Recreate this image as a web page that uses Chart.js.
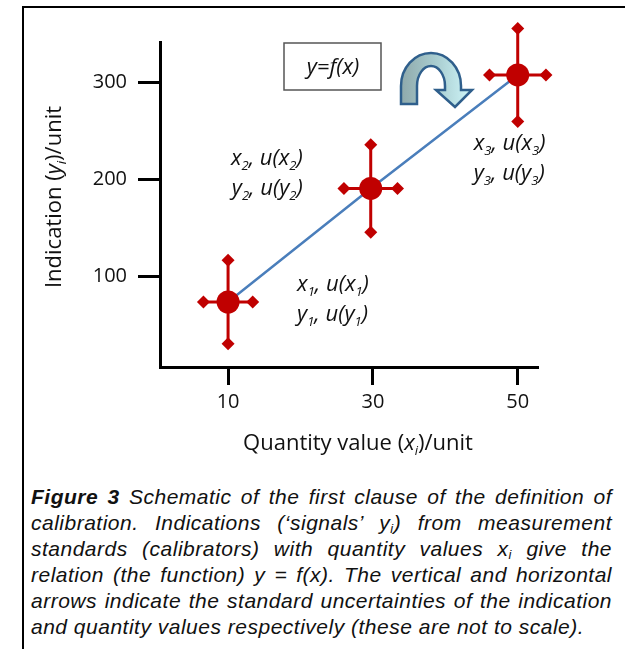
<!DOCTYPE html>
<html>
<head>
<meta charset="utf-8">
<script src="https://cdn.jsdelivr.net/npm/chart.js@4.4.1/dist/chart.umd.min.js"></script>
<style>
  html, body { margin: 0; padding: 0; background: #fff; width: 625px; height: 649px; overflow: hidden; }
  #frame { position: absolute; left: 22px; top: 6px; width: 640px; height: 700px;
           border-left: 2px solid #000; border-top: 2px solid #000; }
  #chart { position: absolute; left: 0; top: 0; }
  #caption { position: absolute; left: 31px; top: 484px; width: 581px;
             font-family: "Liberation Sans", Arial, sans-serif; font-style: italic;
             font-size: 21px; line-height: 26px; letter-spacing: 0.5px; color: #111; }
  #caption div { text-align: justify; text-align-last: justify; }
  #caption div.last { text-align-last: left; }
  #caption .sub { font-size: 13px; vertical-align: -3px; line-height: 0; }
</style>
</head>
<body>
<div id="frame"></div>
<canvas id="chart" width="625" height="470"></canvas>
<div id="caption">
  <div><b>Figure 3</b> Schematic of the first clause of the definition of</div>
  <div>calibration. Indications (‘signals’ y<span class="sub">i</span>) from measurement</div>
  <div>standards (calibrators) with quantity values x<span class="sub">i</span> give the</div>
  <div>relation (the function) y = f(x). The vertical and horizontal</div>
  <div>arrows indicate the standard uncertainties of the indication</div>
  <div class="last">and quantity values respectively (these are not to scale).</div>
</div>
<script>
// calibration points (quantity value x, indication y) and their uncertainties
const xValues = [10, 29.7, 50];
const yValues = [74, 191, 308];
const xUncert = [3.4, 3.7, 3.9];
const yUncert = [43, 45, 48];
const pointIds = ['1', '2', '3'];

// axes
const xTicks = [10, 30, 50];
const yTicks = [100, 200, 300];
const xRange = [0.6, 52.8];
const yRange = [7, 342];

const RED = '#c00000';
const BLUE = '#4a7ebb';
const FONT = '"Open Sans", Lato, sans-serif';

// where each x/y label pair sits relative to its point (px)
const labelPlace = [
  { dx: 69, dy: -3, align: 'left' },
  { dx: -68, dy: -15, align: 'right' },
  { dx: -44, dy: 83, align: 'left' }
];

// draw a run of text pieces: [text, italic, subscript]
function richText(ctx, parts, x, y, size, align) {
  const pieces = parts.map(p => {
    const fs = p[2] ? Math.round(size * 0.6) : size;
    const font = (p[1] ? 'italic ' : '') + fs + 'px ' + FONT;
    ctx.font = font;
    return { t: p[0], font: font, w: ctx.measureText(p[0]).width, dy: p[2] ? size * 0.22 : 0 };
  });
  const total = pieces.reduce((s, p) => s + p.w, 0);
  let cx = align === 'center' ? x - total / 2 : align === 'right' ? x - total : x;
  ctx.textAlign = 'left';
  ctx.textBaseline = 'alphabetic';
  pieces.forEach(p => {
    ctx.font = p.font;
    ctx.fillText(p.t, cx, y + p.dy);
    cx += p.w;
  });
}

function diamond(ctx, x, y, r) {
  ctx.beginPath();
  ctx.moveTo(x, y - r);
  ctx.lineTo(x + r, y);
  ctx.lineTo(x, y + r);
  ctx.lineTo(x - r, y);
  ctx.closePath();
  ctx.fill();
}

const errorBars = {
  id: 'errorBars',
  beforeDatasetsDraw(chart) {
    const { ctx, scales: { x, y } } = chart;
    ctx.save();
    ctx.strokeStyle = RED;
    ctx.fillStyle = RED;
    ctx.lineWidth = 3;
    xValues.forEach((xv, i) => {
      const px = x.getPixelForValue(xv), py = y.getPixelForValue(yValues[i]);
      const l = x.getPixelForValue(xv - xUncert[i]), r = x.getPixelForValue(xv + xUncert[i]);
      const t = y.getPixelForValue(yValues[i] + yUncert[i]), b = y.getPixelForValue(yValues[i] - yUncert[i]);
      ctx.beginPath();
      ctx.moveTo(l, py); ctx.lineTo(r, py);
      ctx.moveTo(px, t); ctx.lineTo(px, b);
      ctx.stroke();
      [[l, py], [r, py], [px, t], [px, b]].forEach(e => diamond(ctx, e[0], e[1], 6.5));
    });
    ctx.restore();
  }
};

function drawArrow(ctx) {
  const cx = 431, cy = 86;
  ctx.save();
  ctx.beginPath();
  ctx.moveTo(401, 104);
  ctx.lineTo(401, cy);
  ctx.ellipse(cx, cy, 30, 33, 0, Math.PI, 2 * Math.PI, false);
  ctx.lineTo(461, 90);
  ctx.lineTo(472, 90);
  ctx.lineTo(455, 107);
  ctx.lineTo(436, 90);
  ctx.lineTo(445, 90);
  ctx.lineTo(445, cy);
  ctx.ellipse(cx, cy, 14, 20, 0, 0, -Math.PI, true);
  ctx.lineTo(417, 104);
  ctx.closePath();
  const g = ctx.createLinearGradient(401, 0, 465, 0);
  g.addColorStop(0, '#8fa9ab');
  g.addColorStop(0.55, '#a9cdd0');
  g.addColorStop(1, '#c8eef1');
  ctx.fillStyle = g;
  ctx.fill();
  ctx.lineWidth = 2.5;
  ctx.lineJoin = 'miter';
  ctx.strokeStyle = '#2f5f8c';
  ctx.stroke();
  ctx.restore();
}

const annotations = {
  id: 'annotations',
  afterDraw(chart) {
    const { ctx, scales: { x, y } } = chart;
    ctx.save();
    ctx.fillStyle = '#111';

    // axis titles
    richText(ctx, [['Quantity value (', 0, 0], ['x', 1, 0], ['i', 1, 1], [')/unit', 0, 0]], 358, 450, 22, 'center');
    ctx.save();
    ctx.translate(53, 197);
    ctx.rotate(-Math.PI / 2);
    richText(ctx, [['Indication (', 0, 0], ['y', 1, 0], ['i', 1, 1], [')/unit', 0, 0]], 0, 8, 22, 'center');
    ctx.restore();

    // labels beside each point
    pointIds.forEach((n, i) => {
      const px = x.getPixelForValue(xValues[i]), py = y.getPixelForValue(yValues[i]);
      const p = labelPlace[i];
      const lx = px + p.dx, ly = py + p.dy;
      richText(ctx, [['x', 1, 0], [n, 1, 1], [', u(', 1, 0], ['x', 1, 0], [n, 1, 1], [')', 1, 0]], lx, ly - 8, 22, p.align);
      richText(ctx, [['y', 1, 0], [n, 1, 1], [', u(', 1, 0], ['y', 1, 0], [n, 1, 1], [')', 1, 0]], lx, ly + 22, 22, p.align);
    });

    // function box
    ctx.strokeStyle = '#555';
    ctx.lineWidth = 1.5;
    ctx.strokeRect(284, 43, 97, 47);
    richText(ctx, [['y=f(x)', 1, 0]], 333, 74, 22, 'center');

    drawArrow(ctx);
    ctx.restore();
  }
};

const tickFont = { family: FONT, size: 20 };

new Chart(document.getElementById('chart'), {
  type: 'scatter',
  data: {
    datasets: [{
      data: xValues.map((v, i) => ({ x: v, y: yValues[i] })),
      showLine: true,
      borderColor: BLUE,
      borderWidth: 2.5,
      pointRadius: 11.5,
      pointBackgroundColor: RED,
      pointBorderWidth: 0,
      clip: false
    }]
  },
  options: {
    responsive: false,
    animation: false,
    layout: { padding: { left: 0, top: 42, right: 87, bottom: 43 } },
    plugins: { legend: { display: false }, tooltip: { enabled: false } },
    scales: {
      x: {
        type: 'linear',
        min: xRange[0],
        max: xRange[1],
        afterBuildTicks: s => { s.ticks = xTicks.map(v => ({ value: v })); },
        afterFit: s => { s.height = 60; s.paddingLeft = 0; s.paddingRight = 0; },
        ticks: { color: '#111', font: tickFont, padding: 5 },
        grid: { drawOnChartArea: false, drawTicks: true, tickLength: 18, tickWidth: 3, tickColor: '#000' },
        border: { display: true, color: '#000', width: 3 }
      },
      y: {
        type: 'linear',
        min: yRange[0],
        max: yRange[1],
        afterBuildTicks: s => { s.ticks = yTicks.map(v => ({ value: v })); },
        afterFit: s => { s.width = 160; s.paddingTop = 0; s.paddingBottom = 0; },
        ticks: { color: '#111', font: tickFont, padding: 11 },
        grid: { drawOnChartArea: false, drawTicks: true, tickLength: 22, tickWidth: 3, tickColor: '#000' },
        border: { display: true, color: '#000', width: 3 }
      }
    }
  },
  plugins: [errorBars, annotations]
});
</script>
</body>
</html>
